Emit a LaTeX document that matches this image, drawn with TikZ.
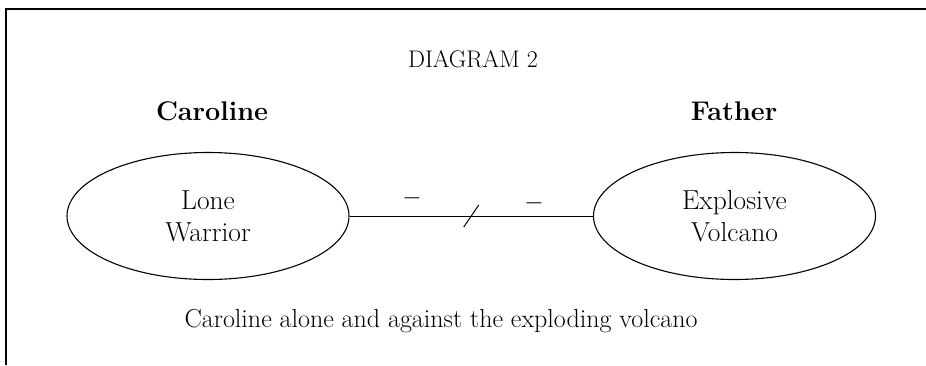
\documentclass[tikz,border=0pt]{standalone}
\usetikzlibrary{shapes.geometric}

\begin{document}
\begin{tikzpicture}[x=1pt, y=-1pt,
    role/.style={draw, ellipse, line width=1.1pt, minimum width=282pt,
      minimum height=127pt, inner sep=0pt, align=center,
      font=\fontsize{27.5}{32}\selectfont},
    who/.style={anchor=base, font=\fontsize{27}{31}\selectfont\bfseries},
    sign/.style={anchor=base, inner sep=0pt, font=\fontsize{25}{29}\selectfont}]

  \useasboundingbox (0,0) rectangle (926,365);

  % frame runs off the page on the right and at the bottom
  \draw[line width=2pt] (926,9) -- (6,9) -- (6,365);

  \node[anchor=base, font=\fontsize{24}{28}\selectfont] (title) at (473,67) {DIAGRAM 2};

  \node[who] (caroline) at (212,120) {Caroline};
  \node[who] (father) at (734,120) {Father};

  \node[role] (warrior) at (208,216) {Lone\\Warrior};
  \node[role] (volcano) at (734.5,216) {Explosive\\Volcano};

  % cut-off line between the two
  \draw[line width=1pt] (warrior.east) -- coordinate[pos=.5] (cut) (volcano.west);
  \draw[line width=1pt] ([shift={(-7.5,11)}]cut) -- ([shift={(7.5,-11)}]cut);

  \node[sign] (minusA) at (412,204) {$-$};
  \node[sign] (minusB) at (534,209) {$-$};

  \node[anchor=base, font=\fontsize{26}{30}\selectfont] (caption) at (441,327)
    {Caroline alone and against the exploding volcano};

\end{tikzpicture}
\end{document}
